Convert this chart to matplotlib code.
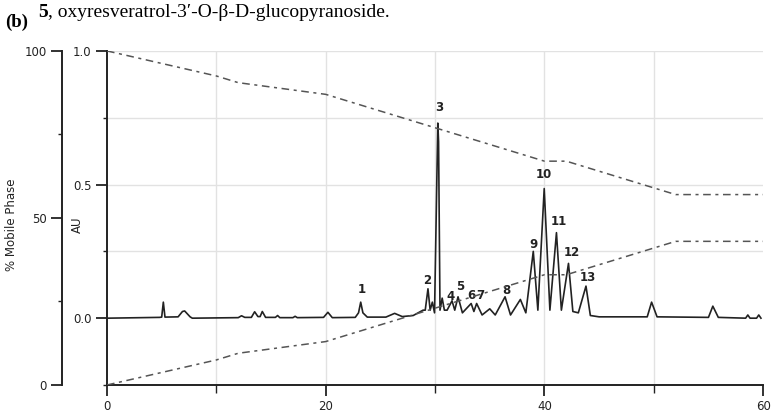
import matplotlib.pyplot as plt
from matplotlib.ticker import FixedLocator

# chromatogram trace, vertices (time in min, AU)
trace_t = [0, 4.8, 5.0, 5.15, 5.3, 6.5, 6.9, 7.1, 7.6, 7.8,
           12.0, 12.3, 12.6, 13.2, 13.5, 13.8, 14.0, 14.2, 14.5, 15.4, 15.6, 15.8,
           17.0, 17.2, 17.4, 19.8, 20.2, 20.6, 22.7, 23.0, 23.2, 23.4, 23.8,
           25.5, 26.3, 27.0, 28.0, 28.9, 29.1, 29.35, 29.55, 29.75, 29.95,
           30.25, 30.32, 30.45, 30.65, 30.85, 31.1, 31.55, 31.8, 32.1, 32.5,
           33.3, 33.55, 33.8, 34.3, 35.0, 35.5, 36.4, 36.9, 37.8, 38.3,
           38.98, 39.4, 39.98, 40.5, 41.1, 41.55, 42.2, 42.6, 43.1, 43.8, 44.2,
           45.0, 49.4, 49.8, 50.3, 55.0, 55.4, 55.9, 58.4, 58.6, 58.8, 59.4,
           59.6, 59.8]
trace_au = [0.0, 0.003, 0.004, 0.06, 0.004, 0.005, 0.025, 0.027, 0.005, 0.0,
            0.002, 0.009, 0.003, 0.003, 0.024, 0.006, 0.006, 0.025, 0.003, 0.003, 0.01, 0.002,
            0.002, 0.007, 0.002, 0.003, 0.022, 0.002, 0.003, 0.02, 0.06, 0.02, 0.004,
            0.004, 0.018, 0.006, 0.01, 0.03, 0.03, 0.11, 0.03, 0.06, 0.02,
            0.73, 0.66, 0.03, 0.075, 0.03, 0.03, 0.065, 0.03, 0.08, 0.02,
            0.055, 0.025, 0.055, 0.012, 0.035, 0.012, 0.08, 0.012, 0.07, 0.02,
            0.25, 0.03, 0.485, 0.03, 0.32, 0.03, 0.205, 0.025, 0.02, 0.12, 0.01,
            0.005, 0.005, 0.06, 0.005, 0.003, 0.045, 0.003, 0.0, 0.012, 0.0, 0.0,
            0.012, 0.0]

# gradient programme (% of mobile phase)
grad_t = [0, 10, 12, 20, 30, 40, 42, 52, 60]
solvent_a = [100, 92.5, 90.5, 87, 77, 67, 67, 57, 57]
solvent_b = [0, 7.5, 9.5, 13, 23, 33, 33, 43, 43]

# peak labels
peak_names = ['1', '2', '3', '4', '5', '6', '7', '8', '9', '10', '11', '12', '13']
peak_x = [23.3, 29.3, 30.4, 31.4, 32.3, 33.3, 34.1, 36.5, 39.0, 39.9, 41.3, 42.5, 44.0]
peak_y = [0.108, 0.142, 0.79, 0.082, 0.12, 0.086, 0.086, 0.104, 0.276, 0.537, 0.36, 0.246, 0.153]

serif = ['Liberation Serif', 'DejaVu Serif']

fig = plt.figure(figsize=(7.71, 4.15), dpi=100)
ax = fig.add_axes([0.1388, 0.0723, 0.851, 0.805])

ax.plot(trace_t, trace_au, color='#222222', lw=1.2, zorder=3)

ax.set_xlim(0, 60)
ax.set_ylim(-0.25, 1.0)
for s in ['top', 'right']:
    ax.spines[s].set_visible(False)
for s in ['left', 'bottom']:
    ax.spines[s].set_linewidth(1.4)
    ax.spines[s].set_color('#222222')

ax.xaxis.set_major_locator(FixedLocator([0, 20, 40, 60]))
ax.xaxis.set_minor_locator(FixedLocator([10, 30, 50]))
ax.yaxis.set_major_locator(FixedLocator([0.0, 0.5, 1.0]))
ax.yaxis.set_minor_locator(FixedLocator([-0.25, 0.25, 0.75]))
ax.set_yticklabels(['0.0', '0.5', '1.0'])
ax.tick_params(which='major', length=8, width=1.3, labelsize=8.5, colors='#222222', pad=3)
ax.tick_params(which='minor', length=3, width=1.0, colors='#222222')
ax.tick_params(axis='x', which='minor', length=6)

# light grid
for gx in [10, 20, 30, 40, 50]:
    ax.axvline(gx, color='#e2e2e2', lw=1.0, zorder=0)
for gy in [0.25, 0.5, 0.75, 1.0]:
    ax.axhline(gy, color='#e2e2e2', lw=1.0, zorder=0)

ax.set_ylabel('AU', fontsize=8.5, color='#222222')
ax.yaxis.set_label_coords(-0.035, 0.48)

# mobile phase axis on a second spine further left
ax2 = ax.twinx()
ax2.set_ylim(0, 100)
for s in ['right', 'top', 'bottom']:
    ax2.spines[s].set_visible(False)
ax2.spines['left'].set_visible(True)
ax2.spines['left'].set_position(('axes', -0.0686))
ax2.spines['left'].set_linewidth(1.4)
ax2.spines['left'].set_color('#222222')
ax2.yaxis.set_ticks_position('left')
ax2.yaxis.set_label_position('left')
ax2.yaxis.set_major_locator(FixedLocator([0, 50, 100]))
ax2.yaxis.set_minor_locator(FixedLocator([25, 75]))
ax2.tick_params(which='major', length=8, width=1.3, labelsize=8.5, colors='#222222', pad=3)
ax2.tick_params(which='minor', length=3, width=1.0, colors='#222222')
ax2.set_ylabel('% Mobile Phase', fontsize=8.5, color='#222222')
ax2.yaxis.set_label_coords(-0.136, 0.48)

ax2.plot(grad_t, solvent_a, color='#555555', lw=1.1, dashes=(5, 3, 2, 3))
ax2.plot(grad_t, solvent_b, color='#555555', lw=1.1, dashes=(5, 3, 2, 3))

for name, x, y in zip(peak_names, peak_x, peak_y):
    ax.text(x, y, name, ha='center', va='center', fontsize=8.5,
            fontweight='bold', color='#222222', zorder=4)

# heading
fig.text(0.006, 0.945, '(b)', fontsize=13.5, fontweight='bold', family=serif, va='center')
t5 = fig.text(0.049, 0.969, '5', fontsize=14, fontweight='bold', family=serif, va='center')
ax.annotate(', oxyresveratrol-3\u2032-O-\u03b2-D-glucopyranoside.', xy=(1, 0),
            xycoords=t5, va='bottom', ha='left', fontsize=14, family=serif,
            annotation_clip=False)

fig.savefig('out.png', dpi=100)
